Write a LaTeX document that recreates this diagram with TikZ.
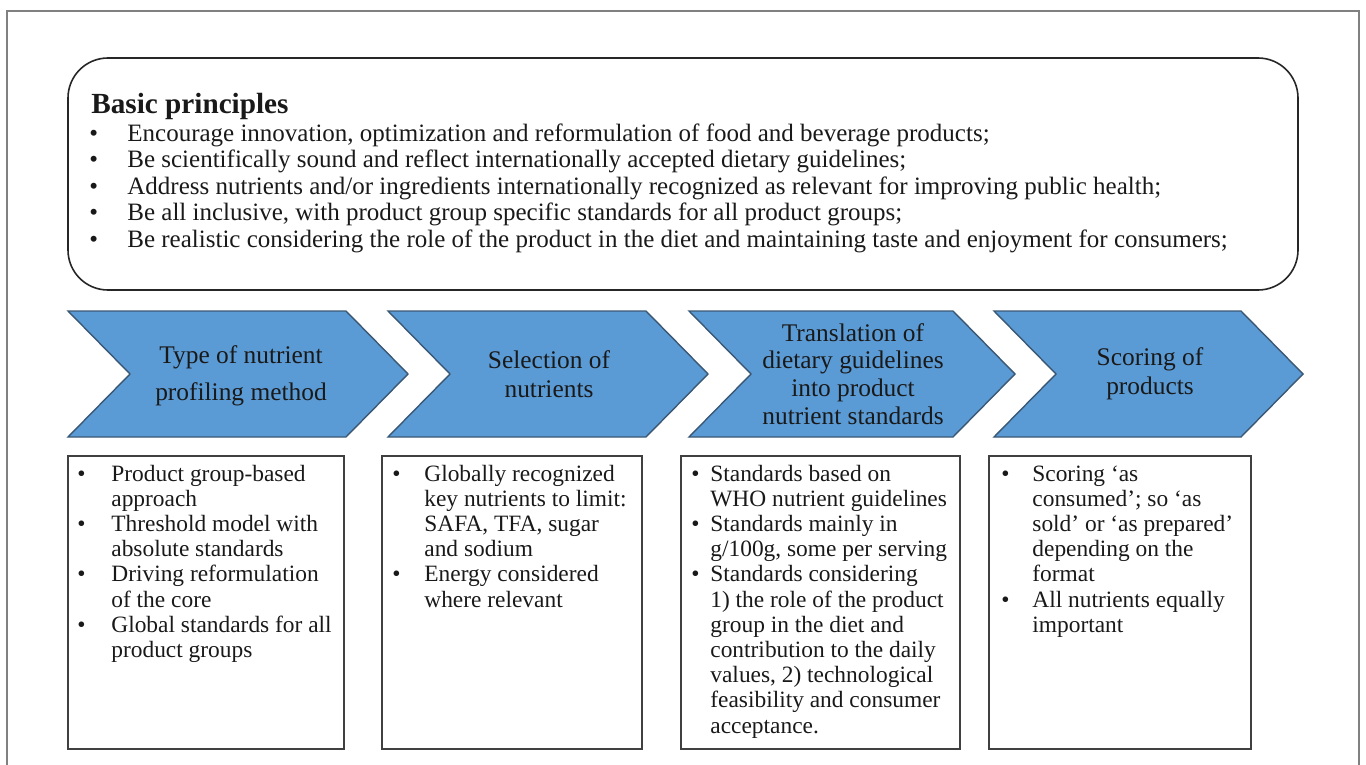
\documentclass[tikz,border=0pt]{standalone}
\usepackage{fontspec}
\setmainfont{Liberation Serif}
\definecolor{chevblue}{HTML}{5B9BD5}
\definecolor{chevedge}{HTML}{3A5874}
\newcommand{\bodyfont}{\fontsize{11.7}{12.6}\selectfont}
\newcommand{\bl}{\textbullet}
\begin{document}
\begin{tikzpicture}[x=0.5pt,y=-0.5pt,
  frame/.style={draw=black!50, line width=0.6pt},
  principlebox/.style={draw=black!85, line width=0.8pt, rounded corners=20pt},
  chev/.style={fill=chevblue, draw=chevedge, line width=0.7pt, line join=miter},
  chevtext/.style={align=center, inner sep=0pt, text=black!90},
  infobox/.style={draw=black!75, line width=0.8pt},
  listtext/.style={anchor=base west, inner sep=0pt, text=black!90, font=\bodyfont}]
\useasboundingbox (0,0) rectangle (1366,765);

% page frame, open at the bottom
\draw[frame] (7,765) -- (7,11) -- (1359,11) -- (1359,765);

% basic principles panel
\draw[principlebox] (68,58) rectangle (1298,290);
\node[anchor=base west, inner sep=0pt, text=black!90, font=\fontsize{14.6}{17}\selectfont\bfseries] (title) at (91,114) {Basic principles};
\node[listtext, font=\fontsize{12.5}{13.25}\selectfont] (principles) at (89,141.5) {%
\begin{tabular}[t]{@{}p{19pt}@{}l@{}}
\bl & Encourage innovation, optimization and reformulation of food and beverage products;\\
\bl & Be scientifically sound and reflect internationally accepted dietary guidelines;\\
\bl & Address nutrients and/or ingredients internationally recognized as relevant for improving public health;\\
\bl & Be all inclusive, with product group specific standards for all product groups;\\
\bl & Be realistic considering the role of the product in the diet and maintaining taste and enjoyment for consumers;
\end{tabular}};

% process chevrons
\draw[chev] (68,311) -- (346,311) -- (408,374) -- (346,437) -- (68,437) -- (130,374) -- cycle;
\draw[chev] (388,311) -- (646,311) -- (708,374) -- (646,437) -- (388,437) -- (450,374) -- cycle;
\draw[chev] (689,311) -- (953,311) -- (1015,374) -- (953,437) -- (689,437) -- (751,374) -- cycle;
\draw[chev] (994,311) -- (1241,311) -- (1303,374) -- (1241,437) -- (994,437) -- (1056,374) -- cycle;

\node[chevtext, font=\fontsize{12.7}{18.5}\selectfont] (c1) at (241,375.5) {Type of nutrient\\profiling method};
\node[chevtext, font=\fontsize{12.7}{14.5}\selectfont] (c2) at (549,374) {Selection of\\nutrients};
\node[chevtext, font=\fontsize{12.7}{13.85}\selectfont] (c3) at (853,374) {Translation of\\dietary guidelines\\into product\\nutrient standards};
\node[chevtext, font=\fontsize{12.7}{14.5}\selectfont] (c4) at (1150,374) {Scoring of\\products};

% detail boxes
\draw[infobox] (68,456) rectangle (344,749);
\draw[infobox] (382,456) rectangle (642,749);
\draw[infobox] (681,456) rectangle (960,749);
\draw[infobox] (989,456) rectangle (1251,749);

\node[listtext] (d1) at (77,481) {%
\begin{tabular}[t]{@{}p{17pt}@{}l@{}}
\bl & Product group-based\\
    & approach\\
\bl & Threshold model with\\
    & absolute standards\\
\bl & Driving reformulation\\
    & of the core\\
\bl & Global standards for all\\
    & product groups
\end{tabular}};

\node[listtext] (d2) at (392,481) {%
\begin{tabular}[t]{@{}p{16pt}@{}l@{}}
\bl & Globally recognized\\
    & key nutrients to limit:\\
    & SAFA, TFA, sugar\\
    & and sodium\\
\bl & Energy considered\\
    & where relevant
\end{tabular}};

\node[listtext] (d3) at (691,481) {%
\begin{tabular}[t]{@{}p{9.5pt}@{}l@{}}
\bl & Standards based on\\
    & WHO nutrient guidelines\\
\bl & Standards mainly in\\
    & g/100g, some per serving\\
\bl & Standards considering\\
    & 1) the role of the product\\
    & group in the diet and\\
    & contribution to the daily\\
    & values, 2) technological\\
    & feasibility and consumer\\
    & acceptance.
\end{tabular}};

\node[listtext] (d4) at (1001,481) {%
\begin{tabular}[t]{@{}p{15.5pt}@{}l@{}}
\bl & Scoring ‘as\\
    & consumed’; so ‘as\\
    & sold’ or ‘as prepared’\\
    & depending on the\\
    & format\\
\bl & All nutrients equally\\
    & important
\end{tabular}};
\end{tikzpicture}
\end{document}
